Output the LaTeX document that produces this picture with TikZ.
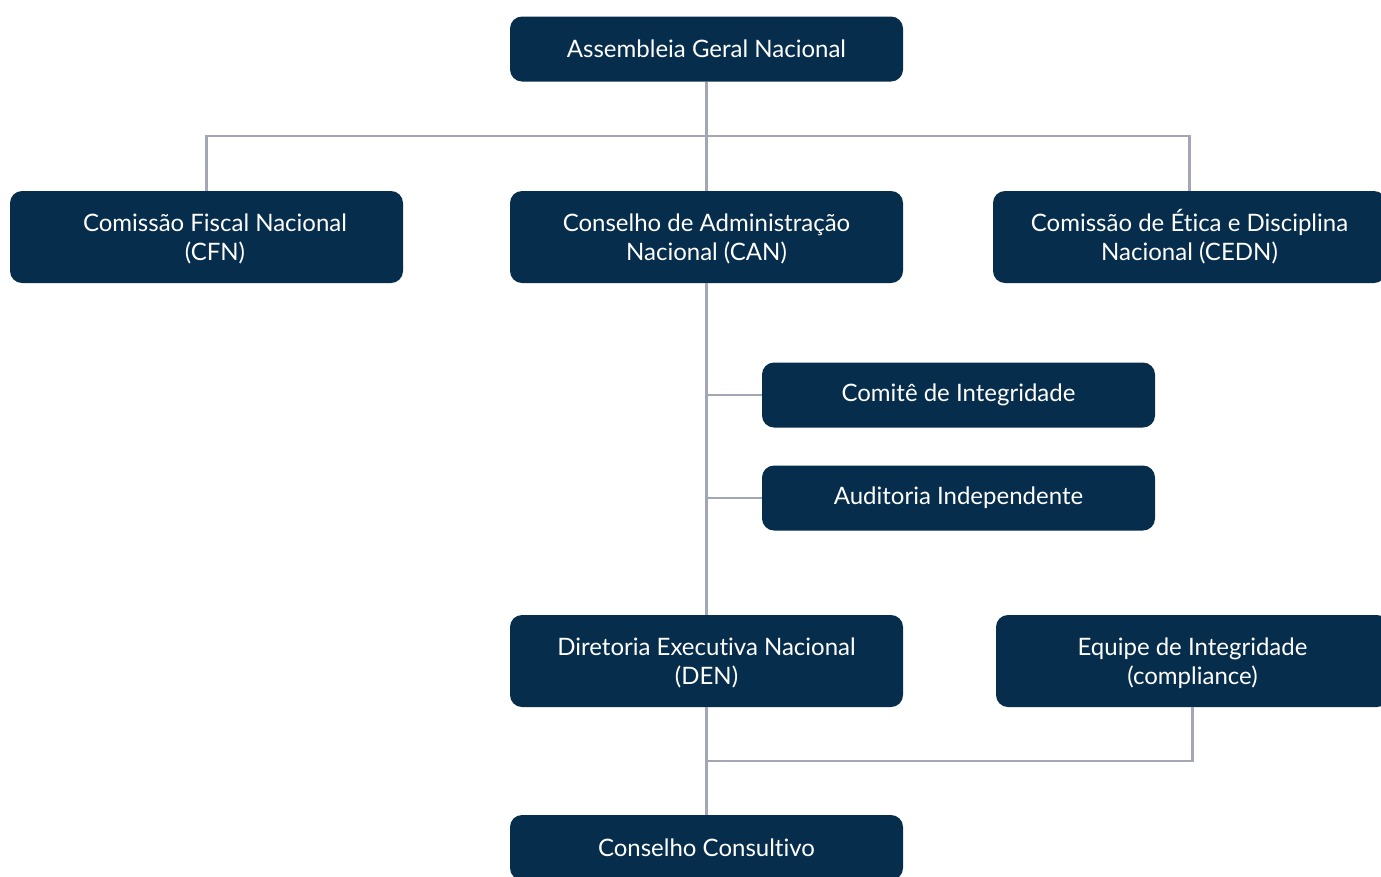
\documentclass[tikz,border=0pt]{standalone}
\usepackage{fontspec}
\setmainfont{Lato}[Ligatures=NoCommon]
\usepackage{tikz}
\usetikzlibrary{positioning}
\definecolor{navy}{HTML}{062D4B}
\definecolor{linkgray}{HTML}{A3A7B5}

\begin{document}
\begin{tikzpicture}[x=1pt, y=-1pt,
  every node/.style={font=\fontsize{24}{29}\selectfont},
  unit/.style={fill=navy, text=white, rounded corners=12pt, inner sep=0pt,
    minimum width=393pt, align=center},
  short/.style={unit, minimum height=65pt},
  tall/.style={unit, minimum height=92pt},
  link/.style={draw=linkgray, line width=2.6pt}
]
\useasboundingbox (0,0) rectangle (1381,876);
\node[short] (agn) at (706.5,49) {Assembleia Geral Nacional};
\node[tall] (cfn) at (206.5,237) {\hspace*{17pt}\vphantom{É}Comissão Fiscal Nacional\\\hspace*{17pt}(CFN)};
\node[tall] (can) at (706.5,237) {\vphantom{É}Conselho de Administração\\Nacional (CAN)};
\node[tall] (cedn) at (1189.5,237) {Comissão de Ética e Disciplina\\Nacional (CEDN)};
\node[short] (cint) at (958.5,395) {Comitê de Integridade};
\node[short] (aud) at (958.5,498) {Auditoria Independente};
\node[tall] (den) at (706.5,661) {\vphantom{É}Diretoria Executiva Nacional\\(DEN)};
\node[tall] (eqp) at (1192.5,661) {\vphantom{É}Equipe de Integridade\\(compliance)};
\node[short] (cc) at (706.5,847.5) {Conselho Consultivo};
\coordinate (topbus) at (706.5,136);
\coordinate (lowbus) at (706.5,761);
% ligações
\draw[link] (agn) -- (can);
\draw[link] (cfn) -- (cfn |- topbus) -- (cedn |- topbus) -- (cedn);
\draw[link] (can) -- (den);
\draw[link] (can |- cint) -- (cint);
\draw[link] (can |- aud) -- (aud);
\draw[link] (den) -- (cc);
\draw[link] (eqp) -- (eqp |- lowbus) -- (lowbus);
\end{tikzpicture}
\end{document}
